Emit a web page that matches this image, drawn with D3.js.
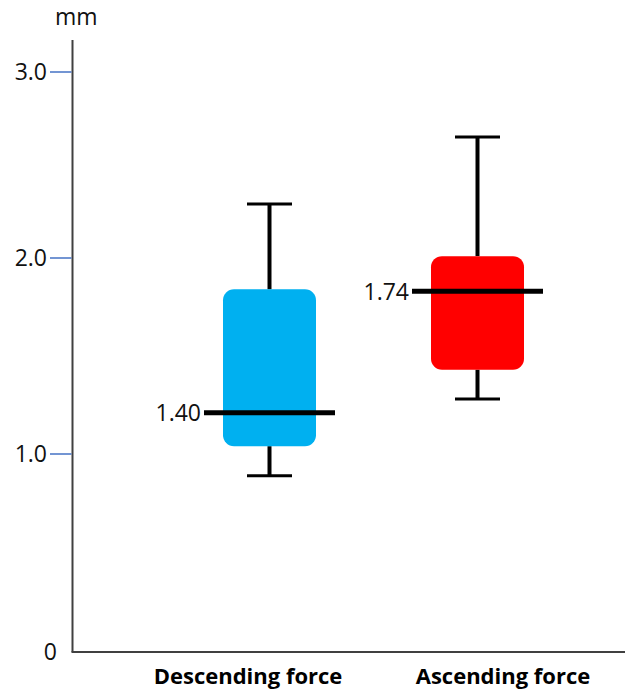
<!DOCTYPE html>
<html><head><meta charset="utf-8">
<script src="https://cdn.jsdelivr.net/npm/d3@7"></script>
<style>
html,body{margin:0;padding:0;background:#fff;}
svg text{font-family:"Open Sans",sans-serif;}
</style></head>
<body><svg id="chart" width="625" height="697"></svg>
<script>
const categories = ["Descending force", "Ascending force"];
const whiskerLow = [0.89, 1.28];
const q1 = [1.04, 1.43];
const median = [1.21, 1.83];
const q3 = [1.84, 2.01];
const whiskerHigh = [2.29, 2.65];
const medianLabels = ["1.40", "1.74"];
const boxColors = ["#00B0F0", "#FF0000"];
const yTickValues = [0, 1, 2, 3];
const yTickLabels = ["0", "1.0", "2.0", "3.0"];
const yUnit = "mm";

const svg = d3.select("#chart");
// axis as drawn in the original is slightly uneven; use a piecewise scale
const y = d3.scaleLinear().domain([0, 1, 2, 3]).range([652, 454, 258, 72]);
const x = d3.scalePoint().domain(categories).range([269.5, 477.5]);
const xLabel = d3.scalePoint().domain(categories).range([248, 503]);
const axisX = 72.5;

// axes
svg.append("line").attr("x1", axisX).attr("x2", axisX).attr("y1", 40).attr("y2", y(0))
  .attr("stroke", "#404040").attr("stroke-width", 2);
svg.append("line").attr("x1", axisX - 1).attr("x2", 625).attr("y1", y(0)).attr("y2", y(0))
  .attr("stroke", "#404040").attr("stroke-width", 2);

yTickValues.forEach((v, i) => {
  if (v !== 0) {
    svg.append("line").attr("x1", 50).attr("x2", axisX - 1).attr("y1", y(v)).attr("y2", y(v))
      .attr("stroke", "#4472C4").attr("stroke-width", 1.5);
  }
  svg.append("text").attr("x", v === 0 ? 57 : 47).attr("y", y(v)).attr("dy", "0.36em")
    .attr("text-anchor", "end").attr("font-size", 23).attr("fill", "#111")
    .text(yTickLabels[i]);
});
svg.append("text").attr("x", 55).attr("y", 25).attr("font-size", 23).attr("fill", "#111").text(yUnit);

const boxW = 93, capW = 45, medW = 131;
categories.forEach((c, i) => {
  const cx = x(c);
  // whiskers
  svg.append("line").attr("x1", cx).attr("x2", cx).attr("y1", y(whiskerHigh[i])).attr("y2", y(q3[i]))
    .attr("stroke", "#000").attr("stroke-width", 4);
  svg.append("line").attr("x1", cx).attr("x2", cx).attr("y1", y(q1[i])).attr("y2", y(whiskerLow[i]))
    .attr("stroke", "#000").attr("stroke-width", 4);
  [whiskerHigh[i], whiskerLow[i]].forEach(v => {
    svg.append("line").attr("x1", cx - capW / 2).attr("x2", cx + capW / 2).attr("y1", y(v)).attr("y2", y(v))
      .attr("stroke", "#000").attr("stroke-width", 3);
  });
  // box
  svg.append("rect").attr("x", cx - boxW / 2).attr("width", boxW)
    .attr("y", y(q3[i])).attr("height", y(q1[i]) - y(q3[i]))
    .attr("rx", 11).attr("ry", 11).attr("fill", boxColors[i]);
  // median
  svg.append("line").attr("x1", cx - medW / 2).attr("x2", cx + medW / 2).attr("y1", y(median[i])).attr("y2", y(median[i]))
    .attr("stroke", "#000").attr("stroke-width", 5);
  svg.append("text").attr("x", cx - medW / 2 - 3).attr("y", y(median[i])).attr("dy", "0.36em")
    .attr("text-anchor", "end").attr("font-size", 23).attr("fill", "#111").text(medianLabels[i]);
  // category label
  svg.append("text").attr("x", xLabel(c)).attr("y", 684).attr("text-anchor", "middle")
    .attr("font-size", 22).attr("font-weight", "bold").attr("fill", "#000").text(c);
});
</script></body></html>
